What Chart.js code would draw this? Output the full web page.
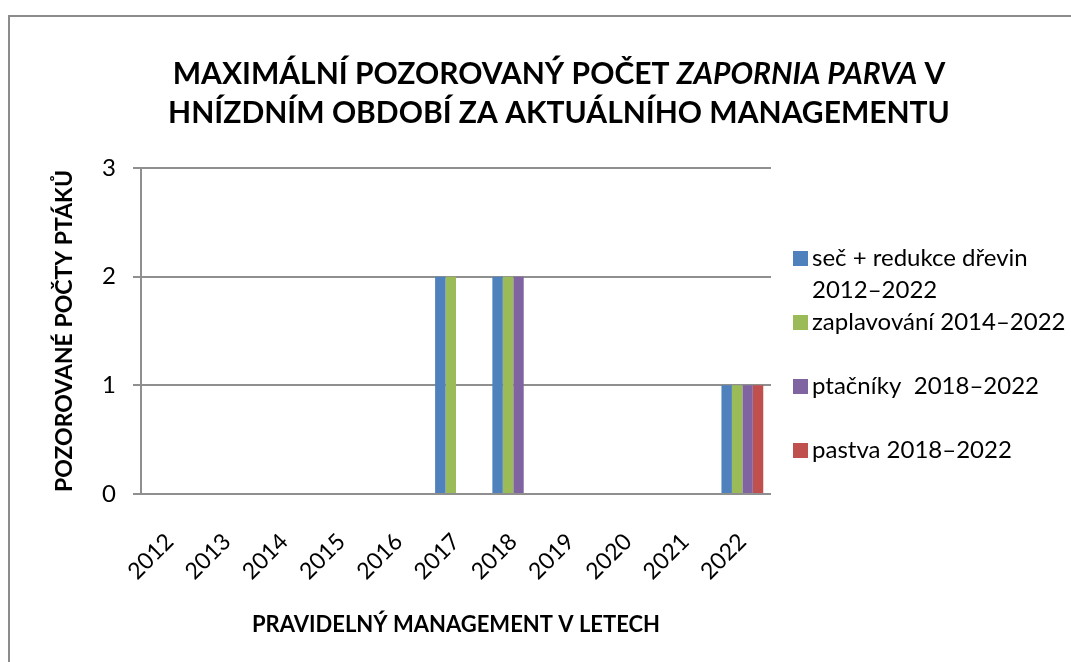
<!DOCTYPE html>
<html>
<head>
<meta charset="utf-8">
<script src="https://cdn.jsdelivr.net/npm/chart.js@4"></script>
<style>
  html, body { margin: 0; padding: 0; background: #fff; overflow: hidden; }
  #frame { position: absolute; left: 8px; top: 15px; width: 1100px; height: 700px;
           border-left: 2px solid #8c8c8c; border-top: 2px solid #8c8c8c; }
  #wrap { position: absolute; left: 0; top: 0; width: 1071px; height: 662px; }
</style>
</head>
<body>
<div id="frame"></div>
<div id="wrap"><canvas id="chart"></canvas></div>
<script>
let years = ['2012', '2013', '2014', '2015', '2016', '2017', '2018', '2019', '2020', '2021', '2022'];

let secRedukce   = [0, 0, 0, 0, 0, 2, 2, 0, 0, 0, 1];
let zaplavovani  = [0, 0, 0, 0, 0, 2, 2, 0, 0, 0, 1];
let ptacniky     = [0, 0, 0, 0, 0, 0, 2, 0, 0, 0, 1];
let pastva       = [0, 0, 0, 0, 0, 0, 0, 0, 0, 0, 1];

let seriesNames = [
    ['seč + redukce dřevin', '2012–2022'],
    ['zaplavování 2014–2022'],
    ['ptačníky  2018–2022'],
    ['pastva 2018–2022']
];
let seriesColors = ['#4F81BD', '#9BBB59', '#8064A2', '#C0504D'];

let yTicks = [0, 1, 2, 3];

let titleRuns = [
    [{text: 'MAXIMÁLNÍ POZOROVANÝ POČET ', italic: false}, {text: 'ZAPORNIA PARVA', italic: true}, {text: ' V', italic: false}],
    [{text: 'HNÍZDNÍM OBDOBÍ ZA AKTUÁLNÍHO MANAGEMENTU', italic: false}]
];
let yTitle = 'POZOROVANÉ POČTY PTÁKŮ';
let xTitle = 'PRAVIDELNÝ MANAGEMENT V LETECH';

const FONT = 'Lato, "Open Sans", sans-serif';
const GRID = '#8f8f8f';

// title with an italic part, drawn by hand
const titlePlugin = {
    id: 'mixedTitle',
    afterDraw(chart) {
        const ctx = chart.ctx;
        const cx = 559;
        const baselines = [84, 123];
        ctx.save();
        ctx.fillStyle = '#000';
        ctx.textBaseline = 'alphabetic';
        titleRuns.forEach((runs, li) => {
            let total = 0;
            runs.forEach(r => {
                ctx.font = (r.italic ? 'italic ' : '') + 'bold 30px ' + FONT;
                total += ctx.measureText(r.text).width;
            });
            let x = cx - total / 2;
            runs.forEach(r => {
                ctx.font = (r.italic ? 'italic ' : '') + 'bold 30px ' + FONT;
                ctx.fillText(r.text, x, baselines[li]);
                x += ctx.measureText(r.text).width;
            });
        });
        ctx.restore();
    }
};

// legend to the right, Excel style spacing
const legendPlugin = {
    id: 'sideLegend',
    afterDraw(chart) {
        const ctx = chart.ctx;
        ctx.save();
        ctx.font = '24px ' + FONT;
        ctx.textBaseline = 'alphabetic';
        chart.data.datasets.forEach((ds, i) => {
            const base = 266 + i * 64;
            ctx.fillStyle = ds.backgroundColor;
            ctx.fillRect(793, base - 15, 15, 15);
            ctx.fillStyle = '#000';
            ds.lines.forEach((line, j) => {
                ctx.fillText(line, 812, base + j * 32);
            });
        });
        ctx.restore();
    }
};

var ctx = document.getElementById('chart');
var chart = new Chart(ctx, {
    type: 'bar',
    data: {
        labels: years,
        datasets: [secRedukce, zaplavovani, ptacniky, pastva].map((values, i) => {
            return {
                label: seriesNames[i].join(' '),
                lines: seriesNames[i],
                data: values,
                backgroundColor: seriesColors[i],
                borderWidth: 0,
                categoryPercentage: 0.73,
                barPercentage: 1.0
            };
        })
    },
    options: {
        responsive: true,
        maintainAspectRatio: false,
        animation: false,
        layout: { padding: { left: 0, top: 168, right: 300, bottom: 0 } },
        plugins: {
            legend: { display: false },
            title: { display: false },
            tooltip: { enabled: false }
        },
        scales: {
            x: {
                grid: { display: false },
                border: { display: false },
                ticks: {
                    color: '#000',
                    font: { family: FONT, size: 23 },
                    minRotation: 45,
                    maxRotation: 45,
                    padding: 26
                },
                title: {
                    display: true,
                    text: xTitle,
                    color: '#000',
                    font: { family: FONT, size: 22, weight: 'bold' },
                    padding: { top: 0, bottom: 24 }
                },
                afterFit(scale) { scale.height = 168; }
            },
            y: {
                min: 0,
                max: 3,
                afterBuildTicks(scale) { scale.ticks = yTicks.map(v => ({value: v})); },
                grid: { color: GRID, lineWidth: 2, tickLength: 8, drawTicks: true },
                border: { display: true, color: GRID, width: 2 },
                ticks: {
                    color: '#000',
                    font: { family: FONT, size: 24 },
                    padding: 17
                },
                title: {
                    display: true,
                    text: yTitle,
                    color: '#000',
                    font: { family: FONT, size: 23, weight: 'bold' },
                    padding: { top: 51, bottom: 0 }
                },
                afterFit(scale) { scale.width = 141; }
            }
        }
    },
    plugins: [titlePlugin, legendPlugin]
});
</script>
</body>
</html>
